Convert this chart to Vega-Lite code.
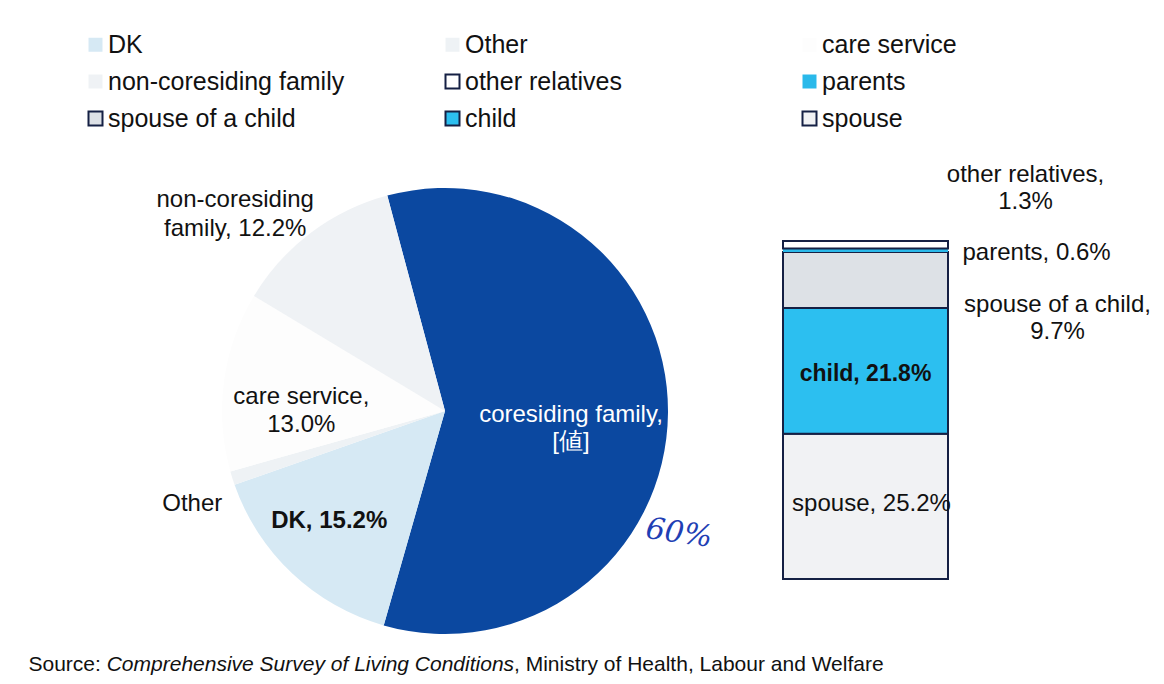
{
  "$schema": "https://vega.github.io/schema/vega-lite/v6.json",
  "background": "#ffffff",
  "padding": {"left": 28, "top": 32, "right": 5, "bottom": 5},
  "autosize": {"type": "pad"},
  "bounds": "flush",
  "columns": 2,
  "spacing": {"row": 30, "column": 115},
  "config": {"font": "Liberation Sans", "view": {"stroke": null}},
  "resolve": {"scale": {"fill": "shared", "stroke": "shared"}},
  "concat": [
    {
      "width": 446,
      "height": 446,
      "data": {"values": [
        {"cat": "coresiding family", "value": 58.6, "ord": 1, "label": "coresiding family,\n[値]", "note": "60%"},
        {"cat": "DK", "value": 15.2, "ord": 2, "label": "DK, 15.2%", "note": ""},
        {"cat": "Other", "value": 1.0, "ord": 3, "label": "Other", "note": ""},
        {"cat": "care service", "value": 13.0, "ord": 4, "label": "care service,\n13.0%", "note": ""},
        {"cat": "non-coresiding family", "value": 12.2, "ord": 5, "label": "non-coresiding\nfamily, 12.2%", "note": ""}
      ]},
      "encoding": {
        "theta": {"field": "value", "type": "quantitative", "stack": true, "scale": {"range": [-0.2618, 6.0214]}},
        "order": {"field": "ord", "type": "quantitative", "sort": "ascending"}
      },
      "layer": [
        {
          "mark": {"type": "arc", "outerRadius": 223},
          "encoding": {
            "fill": {
              "field": "cat", "type": "nominal",
              "scale": {
                "domain": ["DK", "Other", "care service", "non-coresiding family", "other relatives", "parents", "spouse of a child", "child", "spouse", "coresiding family"],
                "range": ["#d6e9f4", "#eef2f5", "#fdfdfd", "#eff2f5", "#ffffff", "#2ab9ea", "#dde1e6", "#2cbff0", "#f1f2f4", "#0b48a0"]
              },
              "legend": {
                "orient": "none", "legendX": -139, "legendY": -156, "direction": "horizontal", "columns": 3, "gridAlign": "all",
                "columnPadding": 95, "rowPadding": 11, "title": null, "padding": 0,
                "values": ["DK", "Other", "care service", "non-coresiding family", "other relatives", "parents", "spouse of a child", "child", "spouse"],
                "symbolType": "square", "symbolSize": 196, "symbolStrokeWidth": 2,
                "labelFontSize": 25, "labelFont": "Liberation Sans", "labelColor": "#111111", "labelLimit": 400, "labelOffset": 0
              }
            }
          }
        },
        {
          "mark": {"type": "text", "radius": 126, "dy": 3, "color": "#ffffff", "fontSize": 24, "lineBreak": "\n", "lineHeight": 27},
          "encoding": {"text": {"condition": {"test": "datum.cat === 'coresiding family'", "field": "label", "type": "nominal"}, "value": ""}}
        },
        {
          "mark": {"type": "text", "radius": 160, "dx": -6, "dy": -6, "color": "#111111", "fontSize": 24, "fontWeight": "bold"},
          "encoding": {"text": {"condition": {"test": "datum.cat === 'DK'", "field": "label", "type": "nominal"}, "value": ""}}
        },
        {
          "mark": {"type": "text", "radius": 265, "dy": 13, "color": "#111111", "fontSize": 24},
          "encoding": {"text": {"condition": {"test": "datum.cat === 'Other'", "field": "label", "type": "nominal"}, "value": ""}}
        },
        {
          "mark": {"type": "text", "radius": 145, "dy": 5, "color": "#111111", "fontSize": 24, "lineBreak": "\n", "lineHeight": 28},
          "encoding": {"text": {"condition": {"test": "datum.cat === 'care service'", "field": "label", "type": "nominal"}, "value": ""}}
        },
        {
          "mark": {"type": "text", "radius": 289, "dx": -36, "dy": 20, "color": "#111111", "fontSize": 24, "lineBreak": "\n", "lineHeight": 29},
          "encoding": {"text": {"condition": {"test": "datum.cat === 'non-coresiding family'", "field": "label", "type": "nominal"}, "value": ""}}
        },
        {
          "mark": {"type": "text", "radius": 262, "dx": -11, "dy": 123, "color": "#1f3fb4", "fontSize": 30, "fontStyle": "italic", "font": "DejaVu Serif", "angle": 8},
          "encoding": {"text": {"field": "note", "type": "nominal"}}
        }
      ]
    },
    {
      "width": 165,
      "height": 391,
      "data": {"values": [
        {"grp": "coresiding family", "cat": "spouse", "value": 25.2, "ord": 1, "label": "spouse, 25.2%"},
        {"grp": "coresiding family", "cat": "child", "value": 21.8, "ord": 2, "label": "child, 21.8%"},
        {"grp": "coresiding family", "cat": "spouse of a child", "value": 9.7, "ord": 3, "label": "spouse of a child,\n9.7%"},
        {"grp": "coresiding family", "cat": "parents", "value": 0.6, "ord": 4, "label": "parents, 0.6%"},
        {"grp": "coresiding family", "cat": "other relatives", "value": 1.3, "ord": 5, "label": "other relatives,\n1.3%"}
      ]},
      "encoding": {
        "x": {"field": "grp", "type": "nominal", "axis": null, "scale": {"paddingInner": 0, "paddingOuter": 0}},
        "y": {"field": "value", "type": "quantitative", "stack": "zero", "axis": null, "scale": {"domain": [0, 67.8], "nice": false, "zero": true}},
        "order": {"field": "ord", "type": "quantitative", "sort": "ascending"}
      },
      "layer": [
        {
          "mark": {"type": "bar", "strokeWidth": 2},
          "encoding": {
            "fill": {
              "field": "cat", "type": "nominal",
              "scale": {
                "domain": ["DK", "Other", "care service", "non-coresiding family", "other relatives", "parents", "spouse of a child", "child", "spouse", "coresiding family"],
                "range": ["#d6e9f4", "#eef2f5", "#fdfdfd", "#eff2f5", "#ffffff", "#2ab9ea", "#dde1e6", "#2cbff0", "#f1f2f4", "#0b48a0"]
              },
              "legend": {
                "orient": "none", "legendX": -139, "legendY": -156, "direction": "horizontal", "columns": 3, "gridAlign": "all",
                "columnPadding": 95, "rowPadding": 11, "title": null, "padding": 0,
                "values": ["DK", "Other", "care service", "non-coresiding family", "other relatives", "parents", "spouse of a child", "child", "spouse"],
                "symbolType": "square", "symbolSize": 196, "symbolStrokeWidth": 2,
                "labelFontSize": 25, "labelFont": "Liberation Sans", "labelColor": "#111111", "labelLimit": 400, "labelOffset": 0
              }
            },
            "stroke": {
              "field": "cat", "type": "nominal",
              "scale": {
                "domain": ["DK", "Other", "care service", "non-coresiding family", "other relatives", "parents", "spouse of a child", "child", "spouse", "coresiding family"],
                "range": ["transparent", "transparent", "transparent", "transparent", "#152044", "transparent", "#152044", "#152044", "#152044", "transparent"]
              },
              "legend": {
                "orient": "none", "legendX": -139, "legendY": -156, "direction": "horizontal", "columns": 3, "gridAlign": "all",
                "columnPadding": 95, "rowPadding": 11, "title": null, "padding": 0,
                "values": ["DK", "Other", "care service", "non-coresiding family", "other relatives", "parents", "spouse of a child", "child", "spouse"],
                "symbolType": "square", "symbolSize": 196, "symbolStrokeWidth": 2,
                "labelFontSize": 25, "labelFont": "Liberation Sans", "labelColor": "#111111", "labelLimit": 400, "labelOffset": 0
              }
            }
          }
        },
        {
          "mark": {"type": "text", "dx": 160, "dy": -70, "align": "center", "color": "#111111", "fontSize": 24, "lineBreak": "\n", "lineHeight": 27},
          "encoding": {
            "y": {"field": "value", "type": "quantitative", "stack": "zero", "bandPosition": 0.5, "scale": {"domain": [0, 67.8], "nice": false, "zero": true}},
            "text": {"condition": {"test": "datum.cat === 'other relatives'", "field": "label", "type": "nominal"}, "value": ""}
          }
        },
        {
          "mark": {"type": "text", "dx": 97, "dy": 3, "align": "left", "color": "#111111", "fontSize": 24},
          "encoding": {
            "y": {"field": "value", "type": "quantitative", "stack": "zero", "bandPosition": 0.5, "scale": {"domain": [0, 67.8], "nice": false, "zero": true}},
            "text": {"condition": {"test": "datum.cat === 'parents'", "field": "label", "type": "nominal"}, "value": ""}
          }
        },
        {
          "mark": {"type": "text", "dx": 192, "dy": 25, "align": "center", "color": "#111111", "fontSize": 24, "lineBreak": "\n", "lineHeight": 27},
          "encoding": {
            "y": {"field": "value", "type": "quantitative", "stack": "zero", "bandPosition": 0.5, "scale": {"domain": [0, 67.8], "nice": false, "zero": true}},
            "text": {"condition": {"test": "datum.cat === 'spouse of a child'", "field": "label", "type": "nominal"}, "value": ""}
          }
        },
        {
          "mark": {"type": "text", "dy": 3, "align": "center", "color": "#111111", "fontSize": 23, "fontWeight": "bold"},
          "encoding": {
            "y": {"field": "value", "type": "quantitative", "stack": "zero", "bandPosition": 0.5, "scale": {"domain": [0, 67.8], "nice": false, "zero": true}},
            "text": {"condition": {"test": "datum.cat === 'child'", "field": "label", "type": "nominal"}, "value": ""}
          }
        },
        {
          "mark": {"type": "text", "dx": 6, "dy": -2, "align": "center", "color": "#111111", "fontSize": 24},
          "encoding": {
            "y": {"field": "value", "type": "quantitative", "stack": "zero", "bandPosition": 0.5, "scale": {"domain": [0, 67.8], "nice": false, "zero": true}},
            "text": {"condition": {"test": "datum.cat === 'spouse'", "field": "label", "type": "nominal"}, "value": ""}
          }
        }
      ]
    },
    {
      "width": 1,
      "height": 1,
      "data": {"values": [{"s1": "Source: ", "s2": "Comprehensive Survey of Living Conditions", "s3": ", Ministry of Health, Labour and Welfare"}]},
      "layer": [
        {
          "mark": {"type": "text", "align": "left", "baseline": "middle", "dx": -194, "fontSize": 21, "color": "#111111"},
          "encoding": {"text": {"field": "s1", "type": "nominal"}}
        },
        {
          "mark": {"type": "text", "align": "left", "baseline": "middle", "dx": -115.8, "fontSize": 21, "fontStyle": "italic", "color": "#111111"},
          "encoding": {"text": {"field": "s2", "type": "nominal"}}
        },
        {
          "mark": {"type": "text", "align": "left", "baseline": "middle", "dx": 291.5, "fontSize": 21, "color": "#111111"},
          "encoding": {"text": {"field": "s3", "type": "nominal"}}
        }
      ]
    }
  ]
}
